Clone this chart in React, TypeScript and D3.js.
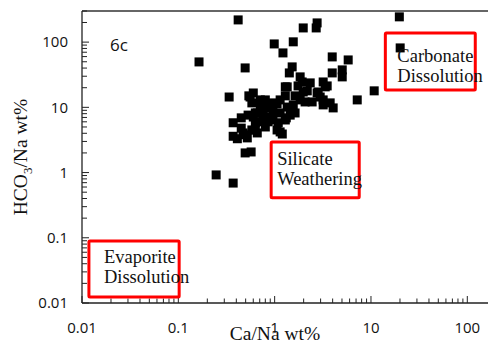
import React from "react";
import * as d3 from "d3";

// Ca/Na wt% (x) and HCO3/Na wt% (y)
const caNa: number[] = [
  0.164, 0.418, 0.494, 0.337, 0.247, 0.371, 19.7, 20.1, 10.8, 7.2,
  3.96, 5.8, 2.76, 2.7, 1.98, 1.56, 0.99, 1.22, 1.52, 1.42,
  3.96, 5.03, 5.03, 1.84, 1.93, 2.34, 3.19, 3.51, 1.29, 1.75,
  2.18, 2.76, 3.19, 3.77, 4.05, 2.45, 1.56, 1.45, 1.63, 1.14,
  1.06, 0.96, 0.9, 0.84, 0.71, 0.6, 0.54, 0.58, 0.45, 0.371,
  0.53, 0.6, 0.66, 0.76, 0.9, 0.96, 1.09, 1.14, 1.32, 0.96,
  0.63, 0.58, 0.47, 0.63, 0.8, 1.06, 1.14, 1.2, 0.371, 0.41,
  0.52, 0.494, 0.66, 0.494, 0.57, 0.71, 0.63, 0.556, 2.83, 1.98,
  2.07, 3.19, 2.97, 1.35, 3.35, 0.76, 1.29, 1.63, 1.84, 1.35,
  0.8, 0.855, 1.29, 0.71, 0.45,
];
const hco3Na: number[] = [
  49.7, 219, 40.2, 14.4, 0.92, 0.69, 244, 81.5, 17.9, 13.0,
  59.3, 53.3, 197, 165, 165, 101, 93.8, 68.3, 41.7, 33.7,
  33.7, 37.5, 29.3, 29.3, 24.5, 23.7, 24.5, 21.3, 20.6, 21.3,
  17.9, 16.6, 13.0, 11.7, 9.8, 12.1, 10.9, 7.6, 8.2, 13.0,
  11.3, 11.7, 10.1, 9.8, 13.0, 16.6, 15.0, 11.7, 6.9, 5.8,
  7.6, 7.1, 8.2, 7.1, 7.1, 6.4, 5.8, 8.2, 6.9, 8.5,
  5.8, 4.5, 4.05, 4.5, 5.0, 4.5, 4.2, 3.9, 3.6, 3.3,
  3.4, 3.8, 4.05, 2.0, 2.07, 10.1, 8.2, 14.4, 17.2, 17.2,
  12.1, 10.9, 14.4, 20.6, 20.6, 7.6, 15.0, 15.0, 13.0, 10.1,
  13.0, 6.0, 6.4, 6.0, 4.8,
];

const xTickValues: number[] = [0.01, 0.1, 1, 10, 100];
const xTickLabels: string[] = ["0.01", "0.1", "1", "10", "100"];
const yTickValues: number[] = [0.01, 0.1, 1, 10, 100];
const yTickLabels: string[] = ["0.01", "0.1", "1", "10", "100"];

// zone boxes in data units, and their labels
const zoneNames: string[][] = [
  ["Carbonate", "Dissolution"],
  ["Silicate", "Weathering"],
  ["Evaporite", "Dissolution"],
];
const zoneX0: number[] = [14.1, 0.92, 0.0118];
const zoneX1: number[] = [121, 7.55, 0.102];
const zoneY0: number[] = [18.5, 0.41, 0.0124];
const zoneY1: number[] = [138, 2.95, 0.0893];

const panelLabel = "6c";
const xTitle = "Ca/Na wt%";

export default function App() {
  const W = 492;
  const H = 346;
  const left = 82;
  const top = 11;
  const bottom = 303;
  const x = d3.scaleLog().domain([0.01, 100]).range([left, 467.3]);
  const y = d3.scaleLog().domain([0.01, 300]).range([bottom, top]);
  const axisRight = 488;

  const xMinor = x.ticks().filter((v) => !xTickValues.some((t) => Math.abs(t - v) / t < 1e-6));
  const yMinor = y.ticks().filter((v) => !yTickValues.some((t) => Math.abs(t - v) / t < 1e-6));

  const sq = 9;
  const serif = "'Liberation Serif', 'Times New Roman', serif";
  const sans = "'Open Sans', 'Liberation Sans', sans-serif";
  // label offsets inside each box (layout)
  const labelDx = [12, 6, 15];
  const labelDy = [29, 23, 22];

  return (
    <svg width={W} height={H} style={{ position: "absolute", left: 0, top: 0, background: "#fff" }}>
      {/* frame */}
      <line x1={left} x2={axisRight} y1={top} y2={top} stroke="#333" strokeWidth={1.3} />
      <line x1={left} x2={left} y1={top} y2={bottom} stroke="#222" strokeWidth={1.3} />
      <line x1={left} x2={axisRight} y1={bottom} y2={bottom} stroke="#222" strokeWidth={1.3} />

      {/* x ticks (inward) */}
      {xTickValues.map((v) => (
        <line key={"xM" + v} x1={x(v)} x2={x(v)} y1={bottom} y2={bottom - 7} stroke="#222" strokeWidth={1} />
      ))}
      {xMinor.map((v) => (
        <line key={"xm" + v} x1={x(v)} x2={x(v)} y1={bottom} y2={bottom - 4.5} stroke="#222" strokeWidth={1} />
      ))}
      {xTickValues.map((v, i) => (
        <text key={"xl" + v} x={x(v)} y={333} textAnchor="middle" fontFamily={sans} fontSize={15} fill="#111">
          {xTickLabels[i]}
        </text>
      ))}

      {/* y ticks (inward) */}
      {yTickValues.map((v) => (
        <line key={"yM" + v} x1={left} x2={left + 7} y1={y(v)} y2={y(v)} stroke="#222" strokeWidth={1} />
      ))}
      {yMinor.map((v) => (
        <line key={"ym" + v} x1={left} x2={left + 5} y1={y(v)} y2={y(v)} stroke="#222" strokeWidth={1} />
      ))}
      {yTickValues.map((v, i) => (
        <text key={"yl" + v} x={68} y={y(v)} dy="0.35em" textAnchor="end" fontFamily={sans} fontSize={15} fill="#111">
          {yTickLabels[i]}
        </text>
      ))}

      {/* zones */}
      {zoneNames.map((names, i) => {
        const bx = x(zoneX0[i]);
        const bx1 = x(zoneX1[i]);
        const by = y(zoneY1[i]);
        const by1 = y(zoneY0[i]);
        return (
          <rect key={"z" + i} x={bx} y={by} width={bx1 - bx} height={by1 - by} fill="none" stroke="#ff0000" strokeWidth={3} rx={1} />
        );
      })}

      {/* points */}
      {caNa.map((v, i) => (
        <rect key={"p" + i} x={x(v) - sq / 2} y={y(hco3Na[i]) - sq / 2} width={sq} height={sq} fill="#000" />
      ))}

      {/* zone labels */}
      {zoneNames.map((names, i) => {
        const bx = x(zoneX0[i]);
        const by = y(zoneY1[i]);
        return (
          <text key={"zt" + i} fontFamily={serif} fontSize={18.5} fill="#111">
            <tspan x={bx + labelDx[i]} y={by + labelDy[i]}>{names[0]}</tspan>
            <tspan x={bx + labelDx[i]} y={by + labelDy[i] + 20.5}>{names[1]}</tspan>
          </text>
        );
      })}

      <text x={110} y={51} fontFamily={sans} fontSize={17} fill="#111">{panelLabel}</text>

      {/* axis titles */}
      <text x={275} y={340} textAnchor="middle" fontFamily={serif} fontSize={19.5} fill="#111">
        {xTitle}
      </text>
      <text transform="translate(27,157) rotate(-90)" textAnchor="middle" fontFamily={serif} fontSize={19.5} fill="#111">
        <tspan>HCO</tspan>
        <tspan fontSize={13} dy={5}>3</tspan>
        <tspan dy={-5}>/Na wt%</tspan>
      </text>
    </svg>
  );
}
